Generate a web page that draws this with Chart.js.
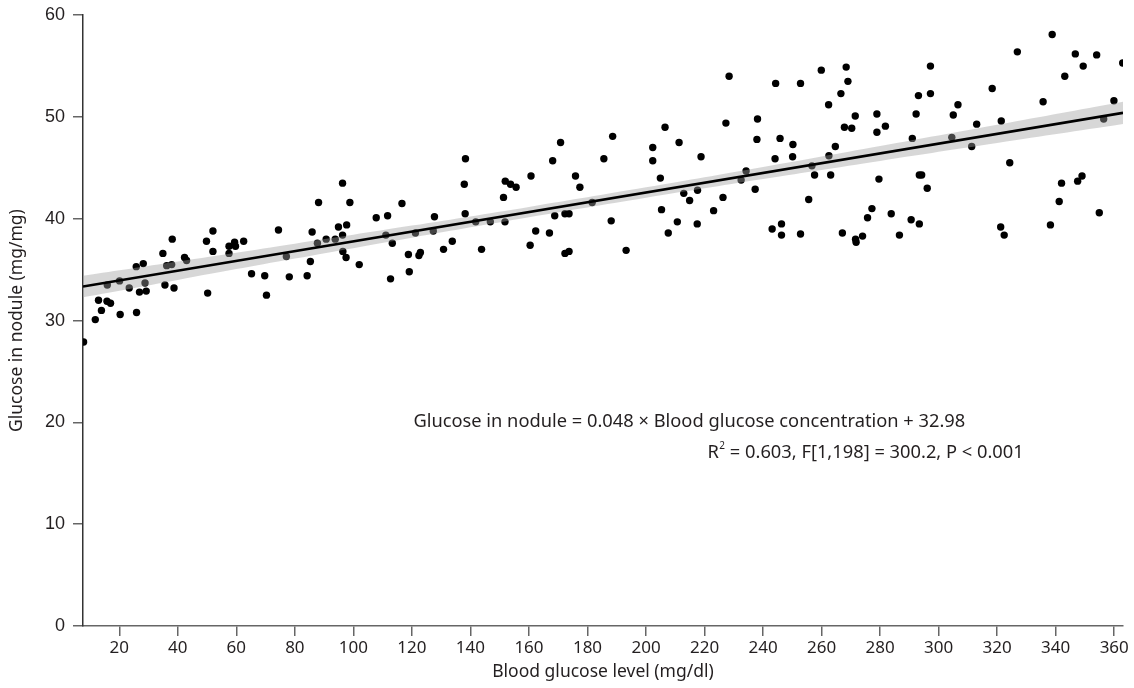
<!DOCTYPE html>
<html>
<head>
<meta charset="utf-8">
<title>Blood glucose vs glucose in nodule</title>
<script src="https://cdn.jsdelivr.net/npm/chart.js@4.4.1/dist/chart.umd.min.js"></script>
<style>
    html, body { margin: 0; padding: 0; background: #fff; }
    #wrap { width: 1134px; height: 688px; position: relative; }
</style>
</head>
<body>
<div id="wrap"><canvas id="glucose"></canvas></div>
<script>

// blood glucose (mg/dl) for each sample
const bloodGlucose = [
    7.8, 11.8, 12.9, 13.9, 15.8, 17.0, 15.9, 20.3, 20.1, 23.4, 25.9, 25.8, 28.2, 26.9, 28.8, 29.2,
    34.9, 35.6, 36.2, 37.9, 38.1, 38.7, 42.3, 43.0, 49.8, 50.2, 52.0, 52.0, 57.5, 57.5, 59.4, 59.7,
    62.5, 65.2, 69.7, 70.3, 74.4, 77.1, 78.1, 84.2, 85.3, 85.9, 88.1, 87.7, 90.7, 93.8, 94.9, 96.3,
    96.3, 96.4, 97.5, 97.7, 98.8, 102.0,
    107.8, 111.7, 111.1, 113.3, 112.7, 116.6, 118.8, 119.1, 122.4, 122.9, 121.2, 127.3, 127.7, 130.8,
    133.8, 138.3, 137.9, 138.2, 141.8, 143.8, 146.8, 151.3, 151.8, 151.9, 153.7, 155.6, 160.7, 160.4,
    162.3, 167.0, 168.1, 168.8, 170.8, 172.3, 173.7, 172.3, 173.7, 175.9, 177.4, 181.6, 185.6, 188.1,
    188.6, 193.2, 202.3, 202.3, 204.9, 205.3, 206.5, 207.6, 210.7, 211.3, 212.9, 214.9, 217.6, 217.5,
    218.8, 223.1, 226.3, 227.3, 228.4, 232.5, 234.2,
    238.1, 237.9, 237.3, 244.3, 244.1, 245.8, 243.1, 246.3, 246.3, 250.1, 250.2, 252.8, 252.8, 255.6,
    256.7, 257.6, 259.9, 262.5, 262.4, 263.1, 264.7, 266.6, 267.1, 267.8, 268.4, 269.0, 270.3, 271.5,
    271.6, 271.8, 274.0, 275.7, 277.2, 278.9, 278.9, 279.6, 281.8, 283.8, 286.6, 290.6, 291.0, 292.3,
    293.1, 293.4, 293.4, 294.2, 296.1, 297.2, 297.2, 304.5, 305.0, 306.6, 311.3, 313.0, 318.3, 321.2,
    321.4, 322.4, 324.3, 326.9, 335.7, 338.2, 338.8, 341.2, 342.0, 343.1, 346.7, 347.5, 349.0, 349.4,
    354.0, 354.9, 356.4, 359.9, 362.9
];

// glucose in nodule (mg/mg), same order as above
const noduleGlucose = [
    27.9, 30.1, 32.0, 31.0, 31.9, 31.7, 33.5, 30.6, 33.9, 33.2, 30.8, 35.3, 35.6, 32.8, 33.7, 32.9,
    36.6, 33.5, 35.4, 35.5, 38.0, 33.2, 36.2, 35.9, 37.8, 32.7, 38.8, 36.8, 37.3, 36.6, 37.7, 37.3,
    37.8, 34.6, 34.4, 32.5, 38.9, 36.3, 34.3, 34.4, 35.8, 38.7, 41.6, 37.6, 38.0, 38.0, 39.2, 38.4,
    43.5, 36.8, 36.2, 39.4, 41.6, 35.5,
    40.1, 40.3, 38.4, 37.6, 34.1, 41.5, 36.5, 34.8, 36.4, 36.7, 38.6, 38.8, 40.2, 37.0,
    37.8, 45.9, 43.4, 40.5, 39.7, 37.0, 39.7, 42.1, 39.7, 43.7, 43.4, 43.1, 44.2, 37.4,
    38.8, 38.6, 45.7, 40.3, 47.5, 40.5, 40.5, 36.6, 36.8, 44.2, 43.1, 41.6, 45.9, 39.8,
    48.1, 36.9, 47.0, 45.7, 44.0, 40.9, 49.0, 38.6, 39.7, 47.5, 42.5, 41.8, 42.8, 39.5,
    46.1, 40.8, 42.1, 49.4, 54.0, 43.8, 44.7,
    49.8, 47.8, 42.9, 53.3, 45.9, 47.9, 39.0, 39.5, 38.4, 46.1, 47.3, 53.3, 38.5, 41.9,
    45.2, 44.3, 54.6, 46.2, 51.2, 44.3, 47.1, 52.3, 38.6, 49.0, 54.9, 53.5, 48.9, 50.1,
    38.0, 37.7, 38.3, 40.1, 41.0, 50.3, 48.5, 43.9, 49.1, 40.5, 38.4, 39.9, 47.9, 50.3,
    52.1, 39.5, 44.3, 44.3, 43.0, 55.0, 52.3, 48.0, 50.2, 51.2, 47.1, 49.3, 52.8, 39.2,
    49.6, 38.4, 45.5, 56.4, 51.5, 39.4, 58.1, 41.7, 43.5, 54.0, 56.2, 43.7, 44.2, 55.0,
    56.1, 40.6, 49.8, 51.6, 55.3
];

// fitted model, as printed in the note
const slope = 0.048;
const intercept = 32.98;

// half width of the 95% confidence band at a few blood glucose levels
const bandAt = [7.6, 40, 80, 120, 160, 200, 240, 280, 320, 363];
const bandHalf = [1.05, 0.90, 0.73, 0.59, 0.51, 0.51, 0.59, 0.73, 0.90, 1.10];

const xTicks = [20, 40, 60, 80, 100, 120, 140, 160, 180, 200, 220, 240, 260, 280, 300, 320, 340, 360];
const yTicks = [0, 10, 20, 30, 40, 50, 60];

const equationText = 'Glucose in nodule = 0.048 \u00d7 Blood glucose concentration + 32.98';
const statsText = ' = 0.603, F[1,198] = 300.2, P < 0.001';

const xMin = 7.6;
const xMax = 363;

const fit = x => slope * x + intercept;

const FONT = "'Noto Sans', 'Open Sans', sans-serif";
const TICK_FONT = "'Liberation Sans', Arial, sans-serif";
const TEXT = '#231f20';

const points = bloodGlucose.map((x, i) => ({ x, y: noduleGlucose[i] }));
const lower = bandAt.map((x, i) => ({ x, y: fit(x) - bandHalf[i] }));
const upper = bandAt.map((x, i) => ({ x, y: fit(x) + bandHalf[i] }));
const fitLine = [xMin, xMax].map(x => ({ x, y: fit(x) }));

// equation on one line, R² and F test under it
const notePlugin = {
    id: 'note',
    afterDatasetsDraw(chart) {
        const { ctx, scales } = chart;
        ctx.save();
        ctx.fillStyle = TEXT;
        ctx.textAlign = 'left';
        ctx.textBaseline = 'middle';
        ctx.font = `18.3px ${FONT}`;
        ctx.fillText(equationText, scales.x.getPixelForValue(120.5), scales.y.getPixelForValue(20.1));

        let x = scales.x.getPixelForValue(221.0);
        const y = scales.y.getPixelForValue(17.0);
        ctx.fillText('R', x, y);
        x += ctx.measureText('R').width;
        ctx.font = `10px ${FONT}`;
        ctx.fillText('2', x + 0.5, y - 7);
        x += ctx.measureText('2').width + 0.5;
        ctx.font = `18.3px ${FONT}`;
        ctx.fillText(statsText, x, y);
        ctx.restore();
    }
};

new Chart(document.getElementById('glucose'), {
    type: 'scatter',
    data: {
        datasets: [
            {
                type: 'line',
                data: fitLine,
                borderColor: '#000',
                borderWidth: 2.6,
                pointRadius: 0,
                fill: false,
                clip: 0,
                order: 1
            },
            {
                type: 'line',
                data: lower,
                borderWidth: 0,
                pointRadius: 0,
                fill: false,
                tension: 0.4,
                clip: 0,
                order: 2
            },
            {
                type: 'line',
                data: upper,
                borderWidth: 0,
                pointRadius: 0,
                backgroundColor: 'rgba(160,160,160,0.42)',
                fill: '-1',
                tension: 0.4,
                clip: 0,
                order: 2
            },
            {
                data: points,
                backgroundColor: '#000',
                borderWidth: 0,
                pointRadius: 3.7,
                clip: 0,
                order: 3
            }
        ]
    },
    options: {
        responsive: true,
        maintainAspectRatio: false,
        animation: false,
        layout: { padding: { left: 0, right: 11, top: 15, bottom: 0 } },
        plugins: {
            legend: { display: false },
            tooltip: { enabled: false }
        },
        scales: {
            x: {
                type: 'linear',
                min: xMin,
                max: xMax,
                afterBuildTicks: scale => { scale.ticks = xTicks.map(value => ({ value })); },
                afterFit: scale => { scale.height = 62; },
                border: { display: true, color: '#666', width: 1.5 },
                grid: { display: true, drawOnChartArea: false, drawTicks: true, tickLength: 10, color: '#666', lineWidth: 1.5 },
                ticks: { color: TEXT, font: { family: FONT, size: 17 }, padding: 2, maxRotation: 0 },
                title: { display: true, text: 'Blood glucose level (mg/dl)', color: TEXT, font: { family: FONT, size: 17.5 }, padding: { top: 0, bottom: 5 } }
            },
            y: {
                type: 'linear',
                min: 0,
                max: 60,
                afterBuildTicks: scale => { scale.ticks = yTicks.map(value => ({ value })); },
                afterFit: scale => { scale.width = 83; },
                border: { display: true, color: '#333', width: 1.5 },
                grid: { display: true, drawOnChartArea: false, drawTicks: true, tickLength: 10, color: '#666', lineWidth: 1.5 },
                ticks: { color: TEXT, font: { family: TICK_FONT, size: 18, lineHeight: 0.8 }, padding: 8 },
                title: { display: true, text: 'Glucose in nodule (mg/mg)', color: TEXT, font: { family: FONT, size: 17.5 }, padding: { top: 7, bottom: 0 } }
            }
        }
    },
    plugins: [notePlugin]
});
</script>
</body>
</html>
